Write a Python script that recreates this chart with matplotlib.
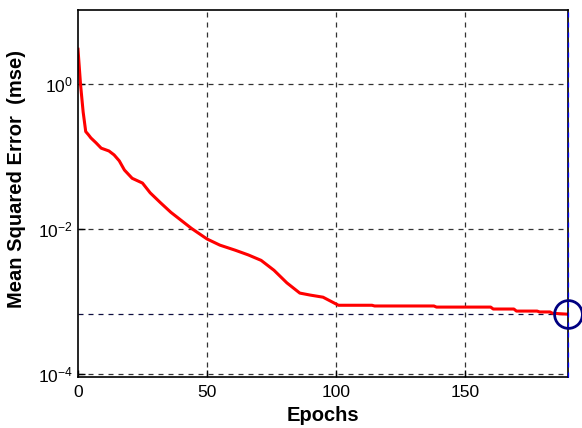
import numpy as np
import matplotlib
matplotlib.use("Agg")
import matplotlib.pyplot as plt

plt.rcParams['font.family'] = ['Liberation Sans', 'DejaVu Sans']
plt.rcParams['mathtext.fontset'] = 'custom'
plt.rcParams['mathtext.rm'] = 'Liberation Sans'
plt.rcParams['mathtext.it'] = 'Liberation Sans'

# training performance
epochs = [0, 1, 2, 3, 4, 5, 7, 9, 12, 14, 16, 18, 21, 25, 28, 32, 36, 44, 50,
          55, 61, 66, 71, 76, 81, 86, 90, 95, 101, 114, 115, 138, 139, 160,
          161, 169, 170, 178, 179, 183, 184, 190]
mse = [3.0, 0.97, 0.41, 0.22, 0.20, 0.18, 0.154, 0.13, 0.119, 0.105, 0.087,
       0.065, 0.050, 0.043, 0.0315, 0.023, 0.017, 0.0102, 0.0073, 0.0060,
       0.0051, 0.0044, 0.0037, 0.0027, 0.00181, 0.00131, 0.00123, 0.00115,
       0.00089, 0.00089, 0.00087, 0.00087, 0.00084, 0.00084, 0.00079,
       0.00079, 0.00074, 0.00074, 0.00072, 0.00072, 0.00069, 0.00067]
best_epoch = 190
best_mse = 0.00067

fig = plt.figure(figsize=(5.82, 4.28), dpi=100)
ax = fig.add_axes([0.134, 0.119, 0.842, 0.858])

ax.plot(epochs, mse, color='red', lw=2.2, zorder=3)
ax.axhline(best_mse, color='#101040', ls=(0, (4, 4)), lw=0.9, zorder=2)
ax.axvline(best_epoch, color='blue', ls=(0, (4, 4)), lw=0.9, zorder=4, clip_on=False)
ax.plot([best_epoch], [best_mse], 'o', ms=20, mfc='none', mec='#000080',
        mew=2, clip_on=False, zorder=5)

ax.set_yscale('log')
ax.set_xlim(0, 190)
ax.set_ylim(10 ** -4.04, 10 ** 1.02)
ax.set_yticks([1e-4, 1e-2, 1e0])
ax.set_xticks([0, 50, 100, 150])
ax.yaxis.set_minor_locator(matplotlib.ticker.NullLocator())
ax.grid(True, color='#333333', ls=(0, (4, 4)), lw=0.9)
ax.xaxis.get_gridlines()[0].set_visible(False)
ax.tick_params(direction='in', length=5, labelsize=12.5, width=1)
ax.tick_params(axis='x', pad=6)
for s in ax.spines.values():
    s.set_linewidth(1.2)
    s.set_zorder(3.5)

ax.set_xlabel('Epochs', fontsize=14.5, fontweight='bold', labelpad=4)
fig.text(17 / 582, 1 - 179 / 428, 'Mean Squared Error  (mse)', rotation=90,
         ha='center', va='center', fontsize=14.5, fontweight='bold')

fig.savefig('out.png', dpi=100)
